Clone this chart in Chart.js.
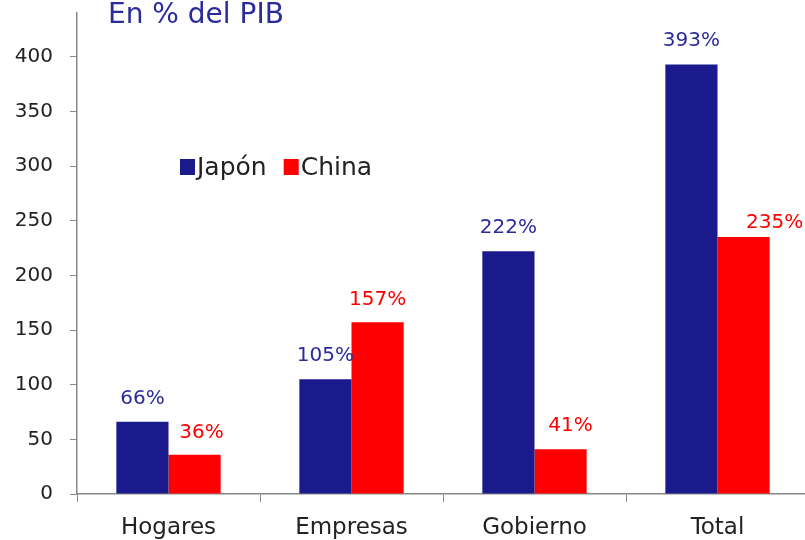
<!DOCTYPE html>
<html lang="es">
<head>
  <meta charset="UTF-8" />
  <title>Deuda Japón vs China</title>
  <script src="https://cdn.jsdelivr.net/npm/chart.js"></script>
  <style>
    html, body { margin: 0; padding: 0; background: #fff; overflow: hidden; }
    #wrap { width: 809px; height: 540px; position: relative; }
  </style>
</head>
<body>
  <div id="wrap"><canvas id="chart"></canvas></div>
  <script>
    const categories = ['Hogares', 'Empresas', 'Gobierno', 'Total'];
    const japon = [66, 105, 222, 393];
    const china = [36, 157, 41, 235];
    const yTicks = [0, 50, 100, 150, 200, 250, 300, 350, 400];

    // small hand nudges of the China labels, as in the original
    const chinaLabelDx = [7, 0, 10, 31];
    const chinaLabelDy = [17, 17, 18, 9];

    const FONT = "'DejaVu Sans', sans-serif";
    const BLUE = '#1a1a8c';
    const RED = '#ff0000';

    const barLabels = {
      id: 'barLabels',
      afterDatasetsDraw(chart) {
        const ctx = chart.ctx;
        ctx.save();
        ctx.font = '20px ' + FONT;
        ctx.textAlign = 'center';
        ctx.textBaseline = 'alphabetic';
        chart.data.datasets.forEach((ds, i) => {
          ctx.fillStyle = i === 0 ? '#2b2b9b' : RED;
          chart.getDatasetMeta(i).data.forEach((bar, j) => {
            const dx = i === 0 ? 0 : chinaLabelDx[j];
            const dy = i === 0 ? 18 : chinaLabelDy[j];
            ctx.fillText(ds.data[j] + '%', bar.x + dx, bar.y - dy);
          });
        });
        ctx.restore();
      }
    };

    const extras = {
      id: 'extras',
      afterDraw(chart) {
        const ctx = chart.ctx;
        ctx.save();
        ctx.font = '28px ' + FONT;
        ctx.fillStyle = '#2b2b9b';
        ctx.textBaseline = 'alphabetic';
        ctx.fillText('En % del PIB', 108, 23);

        ctx.font = '25px ' + FONT;
        let x = 180;
        chart.data.datasets.forEach(ds => {
          ctx.fillStyle = ds.backgroundColor;
          ctx.fillRect(x, 159, 15, 16);
          ctx.fillStyle = '#222';
          ctx.fillText(ds.label, x + 17, 175);
          x += 17 + ctx.measureText(ds.label).width + 17;
        });
        ctx.restore();
      }
    };

    new Chart(document.getElementById('chart'), {
      type: 'bar',
      data: {
        labels: categories,
        datasets: [
          { label: 'Japón', data: japon, backgroundColor: BLUE },
          { label: 'China', data: china, backgroundColor: RED }
        ]
      },
      options: {
        responsive: true,
        maintainAspectRatio: false,
        animation: false,
        layout: { padding: { top: 13, right: 0, left: 0, bottom: 0 } },
        datasets: { bar: { categoryPercentage: 0.57, barPercentage: 1 } },
        plugins: { legend: { display: false }, tooltip: { enabled: false } },
        scales: {
          x: {
            grid: { drawOnChartArea: false, tickLength: 8, color: '#888' },
            border: { color: '#888', width: 1.5 },
            ticks: { color: '#222', font: { family: FONT, size: 23 }, padding: 12 },
            afterFit(s) { s.height = 46; s.paddingLeft = 0; s.paddingRight = 0; }
          },
          y: {
            min: 0,
            max: 440,
            afterBuildTicks(s) { s.ticks = yTicks.map(v => ({ value: v })); },
            grid: { drawOnChartArea: false, tickLength: 7, color: '#888' },
            border: { color: '#888', width: 1.5 },
            ticks: { color: '#222', font: { family: FONT, size: 20 }, padding: 17 },
            afterFit(s) { s.width = 77; s.paddingTop = 0; s.paddingBottom = 0; }
          }
        }
      },
      plugins: [barLabels, extras]
    });
  </script>
</body>
</html>
